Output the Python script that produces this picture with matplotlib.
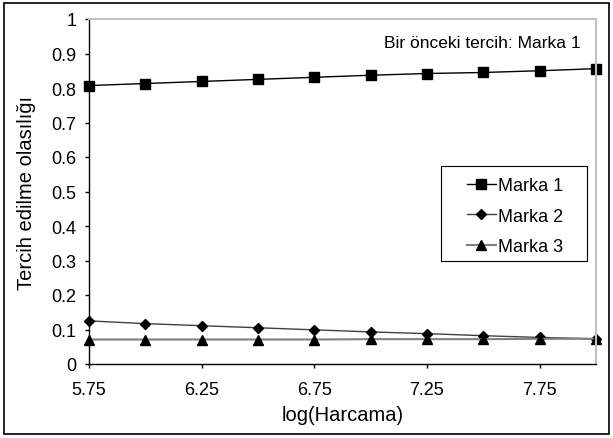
import matplotlib
matplotlib.use('Agg')
import matplotlib.pyplot as plt
from matplotlib.patches import Rectangle

plt.rcParams['font.family'] = ['Liberation Sans', 'DejaVu Sans']

log_harcama = [5.75, 6.0, 6.25, 6.5, 6.75, 7.0, 7.25, 7.5, 7.75, 8.0]
marka1 = [0.807, 0.813, 0.819, 0.825, 0.831, 0.837, 0.842, 0.845, 0.850, 0.856]
marka2 = [0.125, 0.117, 0.111, 0.105, 0.099, 0.093, 0.088, 0.082, 0.077, 0.073]
marka3 = [0.071, 0.071, 0.071, 0.071, 0.071, 0.072, 0.072, 0.072, 0.073, 0.073]
xticks = [5.75, 6.25, 6.75, 7.25, 7.75]
yticks = [0, 0.1, 0.2, 0.3, 0.4, 0.5, 0.6, 0.7, 0.8, 0.9, 1]

fig = plt.figure(figsize=(6.13, 4.39), dpi=100)
ax = fig.add_axes([89/613, 74/439, 507/613, 345/439])

ax.plot(log_harcama, marka1, color='black', lw=1, marker='s', ms=6.5, label='Marka 1', clip_on=False)
ax.plot(log_harcama, marka2, color='#404040', lw=1, marker='D', ms=5.5, mfc='black', mec='black',
        label='Marka 2', clip_on=False)
ax.plot(log_harcama, marka3, color='#808080', lw=1.5, marker='^', ms=7, mfc='black', mec='black',
        label='Marka 3', clip_on=False)

ax.set_xlim(5.75, 8.0)
ax.set_ylim(0, 1)
ax.set_xticks(xticks)
ax.set_xticklabels(['{:.2f}'.format(v) for v in xticks])
ax.set_yticks(yticks)
ax.set_yticklabels(['{:g}'.format(v) for v in yticks])
ax.tick_params(direction='out', length=3, width=1, labelsize=13)
ax.tick_params(axis='x', pad=9.5)
ax.tick_params(axis='y', pad=6)

for side in ['top', 'right']:
    ax.spines[side].set_color('#c0c0c0')
    ax.spines[side].set_linewidth(1.5)
for side in ['left', 'bottom']:
    ax.spines[side].set_color('black')
    ax.spines[side].set_linewidth(1)

ax.set_xlabel('log(Harcama)', fontsize=14.5, labelpad=5)
ax.set_ylabel('Tercih edilme olasılığı', fontsize=14.5, labelpad=11)

ax.text(0.970, 0.933, 'Bir önceki tercih: Marka 1', transform=ax.transAxes,
        ha='right', va='center', fontsize=12.5)

# legend without its own frame, box drawn separately (wide side padding)
leg = ax.legend(loc='upper left', bbox_to_anchor=(0.745, 0.542), fontsize=13,
                frameon=False, handlelength=1.6, borderpad=0, labelspacing=0.75,
                handletextpad=0.15, borderaxespad=0)
ax.add_patch(Rectangle((0.6937, 0.2986), 0.288, 0.2753, transform=ax.transAxes,
                       fill=False, edgecolor='black', lw=0.8, clip_on=False))

fig.patches.append(Rectangle((4/613, 4/439), 605/613, 431/439, transform=fig.transFigure,
                             fill=False, edgecolor='black', lw=1.2))

fig.savefig('out.png', dpi=100)
